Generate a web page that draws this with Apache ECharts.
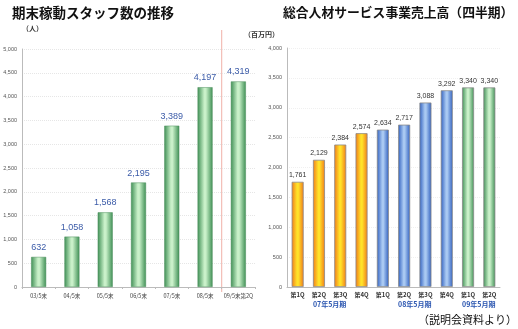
<!DOCTYPE html>
<html><head><meta charset="utf-8">
<script src="https://cdn.jsdelivr.net/npm/echarts@6/dist/echarts.min.js"></script>
<style>html,body{margin:0;padding:0;background:#fff}#c{width:518px;height:329px}</style>
</head><body><div id="c"></div>
<script>
const staffCategories = ['03/5末','04/5末','05/5末','06/5末','07/5末','08/5末','09/5末第2Q'];
const staffValues = [632, 1058, 1568, 2195, 3389, 4197, 4319];
const salesCategories = ['第1Q','第2Q','第3Q','第4Q','第1Q','第2Q','第3Q','第4Q','第1Q','第2Q'];
const salesValues = [1761, 2129, 2384, 2574, 2634, 2717, 3088, 3292, 3340, 3340];
const salesGroupOf = [0,0,0,0,1,1,1,1,2,2];
const groupLabels = ['07年5月期','08年5月期','09年5月期'];
const staffTicks = {min: 0, max: 5000, interval: 500};
const salesTicks = {min: 0, max: 4000, interval: 500};

const G = echarts.graphic;
function grad(edge, mid){
  return new G.LinearGradient(0,0,1,0,[
    {offset:0,color:edge},{offset:0.45,color:mid},{offset:0.55,color:mid},{offset:1,color:edge}]);
}
const greenFill = grad('#3f8f55','#c9f0c9');
const orangeFill = grad('#f07a1a','#ffe22a');
const blueFill = grad('#2f5fbf','#a9c9f2');
const groupFills = [orangeFill, blueFill, greenFill];
const fmt = v => v.toLocaleString('en-US');
const FONT = '"Noto Sans CJK JP", "Noto Sans", sans-serif';

const chart = echarts.init(document.getElementById('c'), null, {renderer:'canvas'});
const axisLabelY = {fontSize:5.5, color:'#555', margin:5, formatter: v => fmt(v), fontFamily: 'Liberation Sans'};
const option = {
  animation:false,
  textStyle:{fontFamily:FONT},
  grid:[
    {left:22, top:49, width:233, height:238},
    {left:287, top:48, width:213, height:239}
  ],
  xAxis:[
    {gridIndex:0, type:'category', data:staffCategories,
     axisLine:{lineStyle:{color:'#bbb'}}, axisTick:{show:true, length:2, lineStyle:{color:'#bbb'}},
     axisLabel:{fontSize:5.5, color:'#444', margin:6, interval:0}},
    {gridIndex:1, type:'category', data:salesCategories,
     axisLine:{lineStyle:{color:'#bbb'}}, axisTick:{show:false},
     axisLabel:{fontSize:6, color:'#333', fontWeight:'bold', margin:5, interval:0}}
  ],
  yAxis:[
    Object.assign({gridIndex:0, type:'value'}, staffTicks, {
      axisLine:{show:true, lineStyle:{color:'#bbb'}}, axisTick:{show:false},
      splitLine:{lineStyle:{color:'#e6e6e6', type:'dotted'}},
      axisLabel:axisLabelY}),
    Object.assign({gridIndex:1, type:'value'}, salesTicks, {
      axisLine:{show:true, lineStyle:{color:'#bbb'}}, axisTick:{show:false},
      splitLine:{lineStyle:{color:'#f0f0f0', type:'dotted'}},
      axisLabel:axisLabelY})
  ],
  series:[
    {type:'bar', xAxisIndex:0, yAxisIndex:0, data:staffValues, barWidth:15,
     itemStyle:{color:greenFill, borderColor:'#4c8f5c', borderWidth:0.5},
     label:{show:true, position:'top', distance:5, fontSize:9, color:'#3b5ba8', fontFamily:'Liberation Sans', formatter:p=>fmt(p.value)}},
    {type:'bar', xAxisIndex:1, yAxisIndex:1,
     data:salesValues.map((v,i)=>({value:v, itemStyle:{color:groupFills[salesGroupOf[i]]}})),
     barWidth:12,
     itemStyle:{borderColor:'#8a8a8a', borderWidth:0.8},
     label:{show:true, position:'top', distance:3, fontSize:7, color:'#333', fontFamily:'Liberation Sans', formatter:p=>fmt(p.value)}}
  ],
  graphic:[
    {type:'text', left:12, top:6, style:{text:'期末稼動スタッフ数の推移', font:'bold 13.5px '+FONT, fill:'#111'}},
    {type:'text', left:283, top:6, style:{text:'総合人材サービス事業売上高（四半期）', font:'bold 12.8px '+FONT, fill:'#111'}},
    {type:'text', left:22, top:25, style:{text:'（人）', font:'bold 7px '+FONT, fill:'#333'}},
    {type:'text', left:244, top:31, style:{text:'（百万円）', font:'bold 7px '+FONT, fill:'#333'}},
    {type:'text', right:1, top:314, style:{text:'（説明会資料より）', font:'11px '+FONT, fill:'#111'}}
  ]
};
chart.setOption(option);

// separator line between 08/5末 and 09/5末第2Q, and group labels under the quarters
const p5 = chart.convertToPixel({xAxisIndex:0, yAxisIndex:0}, [5, 0]);
const p6 = chart.convertToPixel({xAxisIndex:0, yAxisIndex:0}, [6, 0]);
const sepX = (p5[0] + p6[0]) / 2;
const extra = [{type:'line', shape:{x1:sepX, y1:30, x2:sepX, y2:292}, style:{stroke:'#f0b0a8', lineWidth:1}}];
groupLabels.forEach((g, gi) => {
  const idx = salesGroupOf.map((x,i)=>x===gi?i:-1).filter(i=>i>=0);
  const a = chart.convertToPixel({xAxisIndex:1, yAxisIndex:1}, [idx[0], 0]);
  const b = chart.convertToPixel({xAxisIndex:1, yAxisIndex:1}, [idx[idx.length-1], 0]);
  extra.push({type:'text', x:(a[0]+b[0])/2, y:a[1]+14,
    style:{text:g, font:'bold 7px '+FONT, fill:'#2a55b0', align:'center', verticalAlign:'top'}});
});
chart.setOption({graphic: option.graphic.concat(extra)});
</script>
</body></html>
